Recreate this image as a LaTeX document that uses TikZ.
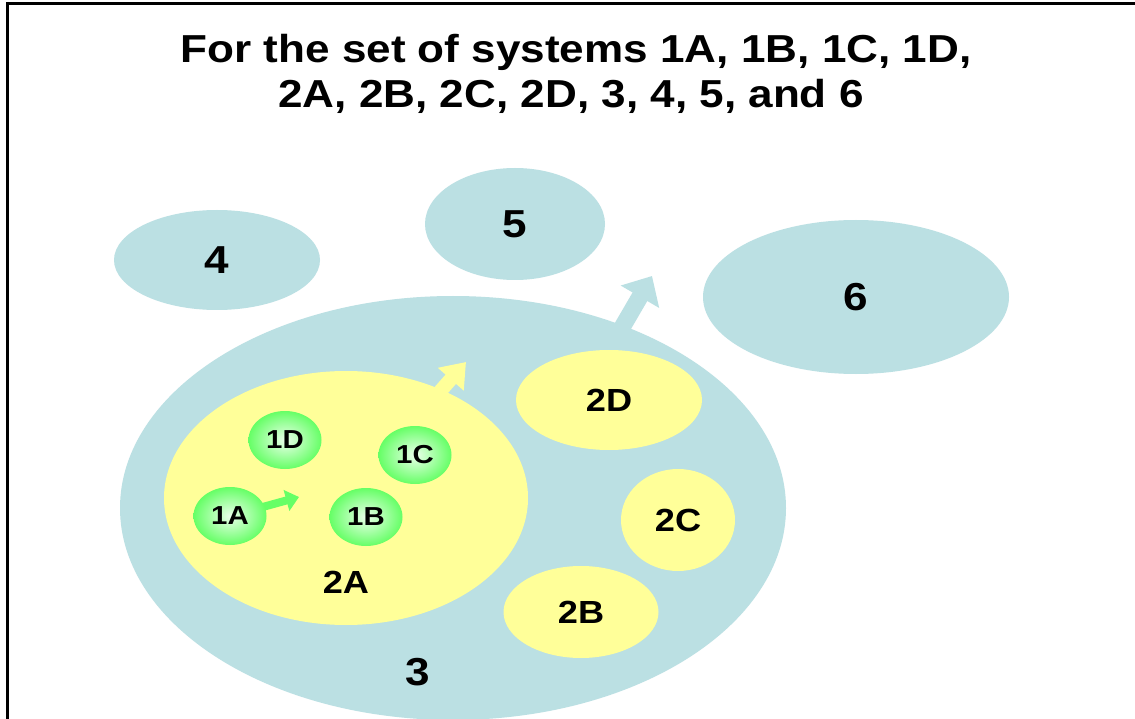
\documentclass[tikz,border=0pt]{standalone}
\usepackage{fontspec}
\setmainfont{Liberation Sans}[FakeStretch=1.13]
\usetikzlibrary{arrows.meta,shapes.geometric}
\definecolor{sysblue}{HTML}{BBE0E3}
\definecolor{sysyellow}{HTML}{FFFF99}
\definecolor{sysgreen}{HTML}{66FF66}
\pgfdeclarelayer{bg}
\pgfdeclarelayer{fg}
\pgfsetlayers{bg,main,fg}
\begin{document}
\begin{tikzpicture}[x=1pt,y=-1pt,
  bigfont/.style={font=\fontsize{39}{44}\selectfont\bfseries},
  midfont/.style={font=\fontsize{32}{36}\selectfont\bfseries},
  smallfont/.style={font=\fontsize{26}{29}\selectfont\bfseries},
  blueblob/.style={ellipse, inner sep=0pt, fill=sysblue, bigfont},
  yellowblob/.style={ellipse, inner sep=0pt, fill=sysyellow, midfont},
  greenball/.style={ellipse, inner sep=0pt, shading=radial, inner color=green!8!white,
    outer color=sysgreen, minimum width=73pt, minimum height=58pt, smallfont},
  frameline/.style={line width=3pt, black}
]
\useasboundingbox (0,0) rectangle (1135,719);

\begin{pgfonlayer}{bg}
  \fill[white] (0,0) rectangle (1135,719);
  \node[blueblob, minimum width=666pt, minimum height=424pt] (big3) at (453,508) {};
  \node[blueblob, minimum width=206pt, minimum height=100pt] (n4) at (217,260) {4};
  \node[blueblob, minimum width=180pt, minimum height=112pt] (n5) at (515,224) {5};
  \node[blueblob, minimum width=306pt, minimum height=154pt] (n6) at (856,297) {6};
  \node[yellowblob, minimum width=364pt, minimum height=254pt] (n2A) at (346,498) {};
  \node[yellowblob, minimum width=186pt, minimum height=100pt] (n2D) at (609,400) {2D};
  \node[yellowblob, minimum width=114pt, minimum height=102pt] (n2C) at (678,520) {2C};
  \node[yellowblob, minimum width=155pt, minimum height=92pt] (n2B) at (581,612) {2B};
  \node[bigfont] (t3) at (418,672) {3};
  \node[midfont] (t2A) at (346,582) {2A};
\end{pgfonlayer}

\draw[frameline] (6,3.5) -- (1135,3.5);
\draw[frameline] (7.5,2) -- (7.5,719);

\node[bigfont, anchor=base] (title1) at (576,63) {For the set of systems 1A, 1B, 1C, 1D,};
\node[bigfont, anchor=base] (title2) at (571,108) {2A, 2B, 2C, 2D, 3, 4, 5, and 6};

\begin{pgfonlayer}{fg}
  \node[greenball] (n1D) at (285,440) {1D};
  \node[greenball] (n1C) at (415,455) {1C};
  \node[greenball] (n1A) at (230,516) {1A};
  \node[greenball] (n1B) at (366,517) {1B};
\end{pgfonlayer}

\coordinate (tipG) at (299,497);
\coordinate (tipY) at (466,362);
\coordinate (tipB) at (652,276);
\draw[sysgreen, line width=8pt, shorten <=-6pt, -{Triangle[length=13pt,width=21pt]}] (n1A) -- (tipG);
\draw[sysyellow, line width=14pt, shorten <=-10pt, -{Triangle[length=23pt,width=33pt]}] (n2A) -- (tipY);
\draw[sysblue, line width=17pt, shorten <=-10pt, -{Triangle[length=24pt,width=43pt]}] (big3.47) -- (tipB);
\end{tikzpicture}
\end{document}
